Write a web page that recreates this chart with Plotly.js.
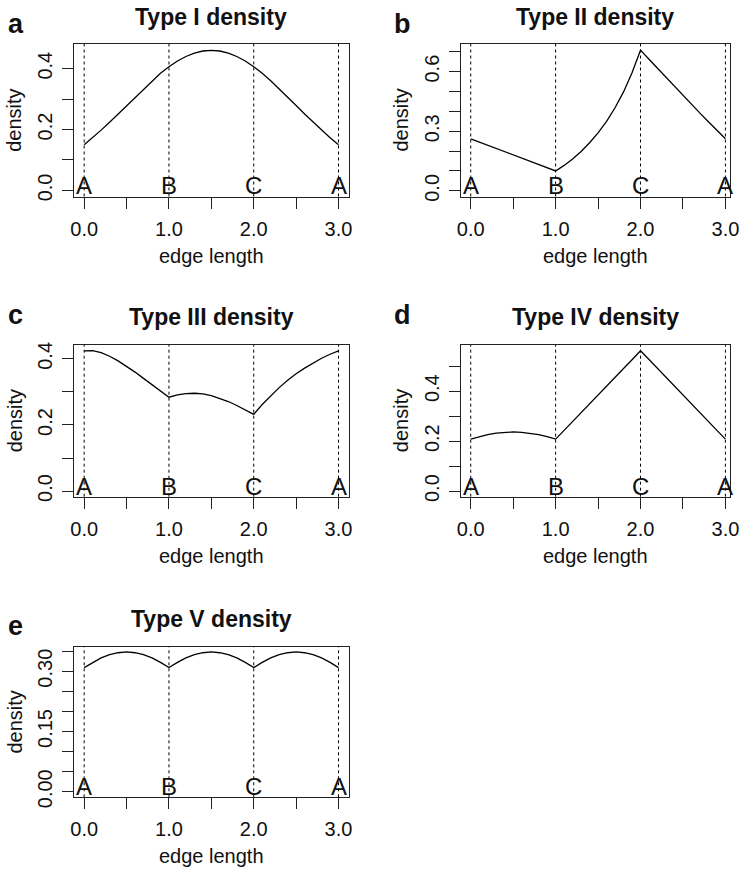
<!DOCTYPE html>
<html>
<head>
<meta charset="utf-8">
<script src="https://cdn.plot.ly/plotly-3.0.1.min.js"></script>
<style>
  html, body { margin: 0; padding: 0; background: #fff; }
  #chart { width: 740px; height: 870px; }
</style>
</head>
<body>
<div id="chart"></div>
<script>
// ---------------- data ----------------
const edgeX = [0.0,0.1,0.2,0.3,0.4,0.5,0.6,0.7,0.8,0.9,1.0,1.1,1.2,1.3,1.4,1.5,1.6,1.7,1.8,1.9,2.0,2.1,2.2,2.3,2.4,2.5,2.6,2.7,2.8,2.9,3.0];

const typeI   = [0.150,0.173,0.198,0.224,0.251,0.279,0.307,0.334,0.360,0.385,0.406,0.425,0.440,0.451,0.458,0.460,0.458,0.451,0.440,0.425,0.406,0.385,0.360,0.334,0.307,0.279,0.251,0.224,0.198,0.173,0.150];
const typeII  = [0.262,0.246,0.229,0.213,0.197,0.181,0.164,0.148,0.132,0.116,0.100,0.128,0.160,0.198,0.242,0.292,0.350,0.418,0.498,0.594,0.708,0.662,0.616,0.570,0.524,0.479,0.435,0.391,0.348,0.305,0.262];
const typeIII = [0.424,0.425,0.419,0.408,0.394,0.378,0.360,0.341,0.322,0.303,0.284,0.291,0.295,0.296,0.294,0.289,0.281,0.271,0.259,0.246,0.232,0.262,0.289,0.313,0.335,0.355,0.372,0.388,0.402,0.414,0.424];
const typeIV  = [0.208,0.218,0.226,0.232,0.235,0.237,0.235,0.232,0.226,0.218,0.208,0.243,0.279,0.314,0.349,0.385,0.420,0.456,0.491,0.526,0.562,0.527,0.491,0.456,0.420,0.385,0.350,0.314,0.279,0.243,0.208];
const typeV   = [0.309,0.322,0.333,0.341,0.346,0.348,0.346,0.341,0.333,0.322,0.309,0.322,0.333,0.341,0.346,0.348,0.346,0.341,0.333,0.322,0.309,0.322,0.333,0.341,0.346,0.348,0.346,0.341,0.333,0.322,0.309];

const vertexPos    = [0, 1, 2, 3];
const vertexLabels = ['A', 'B', 'C', 'A'];

const panelLetters = ['a', 'b', 'c', 'd', 'e'];
const panelTitles  = ['Type I density', 'Type II density', 'Type III density', 'Type IV density', 'Type V density'];
const xAxisLabel = 'edge length';
const yAxisLabel = 'density';

const xTickVals = [0, 0.5, 1, 1.5, 2, 2.5, 3];
const xTickText = ['0.0', '', '1.0', '', '2.0', '', '3.0'];

const yTickValsA = [0, 0.1, 0.2, 0.3, 0.4];
const yTickTextA = ['0.0', '', '0.2', '', '0.4'];
const yTickValsB = [0, 0.1, 0.2, 0.3, 0.4, 0.5, 0.6, 0.7];
const yTickTextB = ['0.0', '', '', '0.3', '', '', '0.6', ''];
const yTickValsC = [0, 0.1, 0.2, 0.3, 0.4];
const yTickTextC = ['0.0', '', '0.2', '', '0.4'];
const yTickValsD = [0, 0.1, 0.2, 0.3, 0.4, 0.5];
const yTickTextD = ['0.0', '', '0.2', '', '0.4', ''];
const yTickValsE = [0, 0.05, 0.10, 0.15, 0.20, 0.25, 0.30, 0.35];
const yTickTextE = ['0.00', '', '', '0.15', '', '', '0.30', ''];

// ---------------- layout helpers ----------------
const W = 740, H = 870;
const px = v => v / W;
const py = v => 1 - v / H;

const FONT = 'Liberation Sans, Arial, Helvetica, sans-serif';
const INK = '#111';

// plot boxes in pixels: [left, right, top, bottom]
const boxes = [
  [74, 348.7, 44, 196.5],
  [460.7, 730, 44, 196.5],
  [74, 348.7, 345, 496.7],
  [460.7, 730, 345, 496.7],
  [74, 348.7, 646.7, 797.3]
];
const xRanges = [[-0.12, 3.12], [-0.118, 3.054], [-0.12, 3.12], [-0.118, 3.054], [-0.12, 3.12]];
const yRanges = [[-0.020, 0.481], [-0.0285, 0.739], [-0.017, 0.442], [-0.0225, 0.585], [-0.0139, 0.361]];
const series = [typeI, typeII, typeIII, typeIV, typeV];
const yTickVals = [yTickValsA, yTickValsB, yTickValsC, yTickValsD, yTickValsE];
const yTickText = [yTickTextA, yTickTextB, yTickTextC, yTickTextD, yTickTextE];

const data = [];
const layout = {
  width: W, height: H,
  margin: {l: 0, r: 0, t: 0, b: 0},
  paper_bgcolor: '#fff', plot_bgcolor: '#fff',
  showlegend: false,
  font: {family: FONT, color: INK, size: 20},
  shapes: [], annotations: []
};

for (let i = 0; i < 5; i++) {
  const n = i === 0 ? '' : String(i + 1);
  const xa = 'x' + n, ya = 'y' + n;
  const [L, R, T, B] = boxes[i];

  data.push({
    type: 'scatter', mode: 'lines',
    x: edgeX, y: series[i],
    xaxis: xa, yaxis: ya,
    line: {color: '#000', width: 1.3},
    hoverinfo: 'skip'
  });

  const axBase = {
    showgrid: false, zeroline: false,
    showline: true, mirror: true, linecolor: '#222', linewidth: 1,
    ticks: 'outside', ticklen: 11, tickwidth: 1, tickcolor: '#222',
    tickfont: {family: FONT, size: 20, color: INK},
    fixedrange: true
  };
  layout['xaxis' + n] = Object.assign({}, axBase, {
    domain: [px(L), px(R)], anchor: ya, range: xRanges[i],
    tickmode: 'array', tickvals: xTickVals, ticktext: xTickText,
    ticklabelstandoff: 3
  });
  layout['yaxis' + n] = Object.assign({}, axBase, {
    domain: [py(B), py(T)], anchor: xa, range: yRanges[i],
    tickmode: 'array', tickvals: yTickVals[i], ticktext: yTickText[i],
    tickangle: -90, ticklabelstandoff: 2
  });

  // dashed vertical lines at vertices
  vertexPos.forEach(v => {
    layout.shapes.push({
      type: 'line', xref: xa, yref: ya + ' domain',
      x0: v, x1: v, y0: 0, y1: 1,
      line: {color: '#000', width: 1, dash: '3px,3px'}
    });
  });

  // vertex labels A B C A
  vertexPos.forEach((v, k) => {
    layout.annotations.push({
      xref: xa, yref: ya, x: v, y: 0,
      text: vertexLabels[k], showarrow: false,
      xanchor: 'center', yanchor: 'middle', yshift: 5,
      font: {family: FONT, size: 24, color: INK}
    });
  });

  const cx = (L + R) / 2;
  const titleBase = [25, 25, 325, 325, 626.7][i];
  const letterBase = [33.3, 33.3, 325, 325, 635][i];
  const letterX = i % 2 === 0 ? 15.8 : 402.5;
  const yLabX = i % 2 === 0 ? 14.5 : 401.3;

  // panel title
  layout.annotations.push({
    xref: 'paper', yref: 'paper', x: px(cx), y: py(titleBase - 8),
    text: '<b>' + panelTitles[i] + '</b>', showarrow: false,
    xanchor: 'center', yanchor: 'middle',
    font: {family: FONT, size: 23, color: INK}
  });
  // panel letter
  layout.annotations.push({
    xref: 'paper', yref: 'paper', x: px(letterX), y: py(letterBase - 9.5),
    text: '<b>' + panelLetters[i] + '</b>', showarrow: false,
    xanchor: 'center', yanchor: 'middle',
    font: {family: FONT, size: 27, color: INK}
  });
  // x-axis label
  layout.annotations.push({
    xref: 'paper', yref: 'paper', x: px(cx), y: py(B + 63 - 4),
    text: xAxisLabel, showarrow: false,
    xanchor: 'center', yanchor: 'middle',
    font: {family: FONT, size: 20, color: INK}
  });
  // y-axis label
  layout.annotations.push({
    xref: 'paper', yref: 'paper', x: px(yLabX), y: py((T + B) / 2),
    text: yAxisLabel, showarrow: false, textangle: -90,
    xanchor: 'center', yanchor: 'middle',
    font: {family: FONT, size: 20, color: INK}
  });
}

Plotly.newPlot('chart', data, layout, {staticPlot: true, displayModeBar: false});
</script>
</body>
</html>
